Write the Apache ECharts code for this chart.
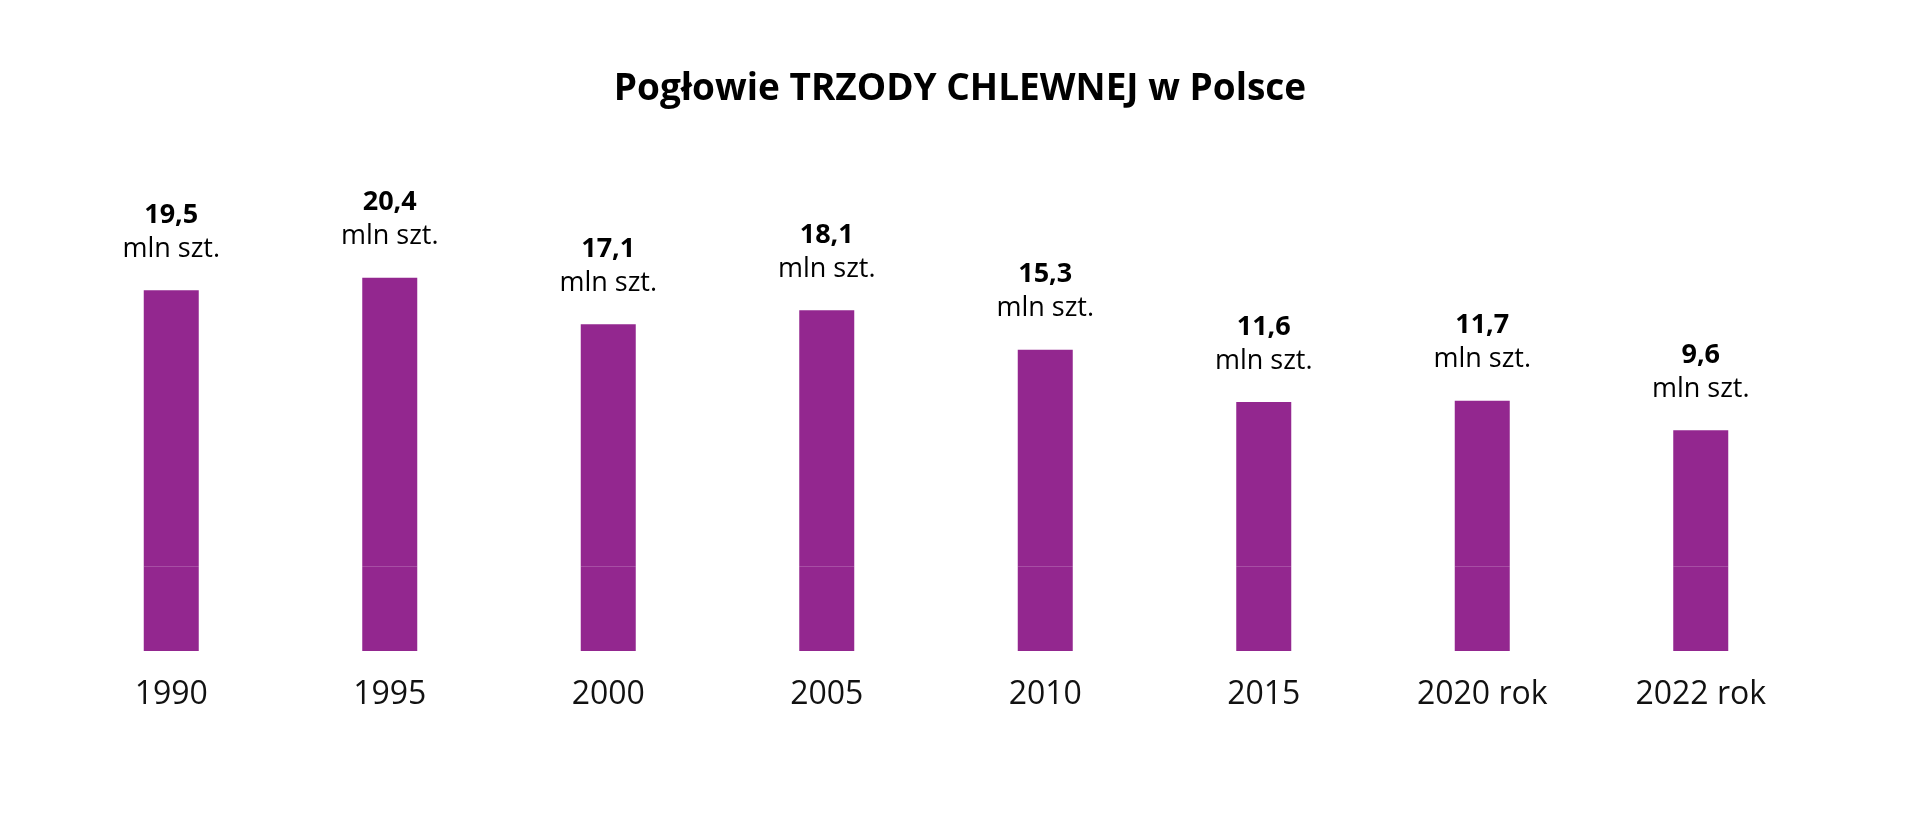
<!DOCTYPE html>
<html><head><meta charset="utf-8">
<script src="https://cdn.jsdelivr.net/npm/echarts@6/dist/echarts.min.js"></script>
<style>html,body{margin:0;background:#fff}#c{width:1920px;height:813px}</style>
</head><body><div id="c"></div>
<script>
const categories = ['1990','1995','2000','2005','2010','2015','2020 rok','2022 rok'];
const values = [19.5,20.4,17.1,18.1,15.3,11.6,11.7,9.6];
const baseOffset = 6;
const chart = echarts.init(document.getElementById('c'));
chart.setOption({
  backgroundColor:'#fff',
  title:{text:'Pogłowie TRZODY CHLEWNEJ w Polsce',left:'center',top:66,
    textStyle:{fontFamily:'Open Sans',fontWeight:'bold',fontSize:37,color:'#000'}},
  grid:{left:62,right:110,top:255,bottom:162},
  xAxis:{type:'category',data:categories,axisLine:{show:false},axisTick:{show:false},
    axisLabel:{margin:28,fontFamily:'Open Sans',fontSize:32,color:'#111'}},
  yAxis:{type:'value',min:0,max:28,show:false,splitLine:{show:false}},
  series:[
    {type:'bar',stack:'s',data:categories.map(()=>baseOffset),itemStyle:{color:'#93278f'},barWidth:55,silent:true},
    {type:'bar',stack:'s',data:values,barWidth:55,itemStyle:{color:'#93278f'},
     label:{show:true,position:'top',distance:24,
       formatter:p=>'{v|'+String(p.value).replace('.',',')+'}\n{u|mln szt.}',
       rich:{v:{fontFamily:'Open Sans',fontWeight:'bold',fontSize:27,color:'#000',lineHeight:34,align:'center'},
             u:{fontFamily:'Open Sans',fontSize:27,color:'#000',lineHeight:34,align:'center'}}}}
  ]
});
</script></body></html>
